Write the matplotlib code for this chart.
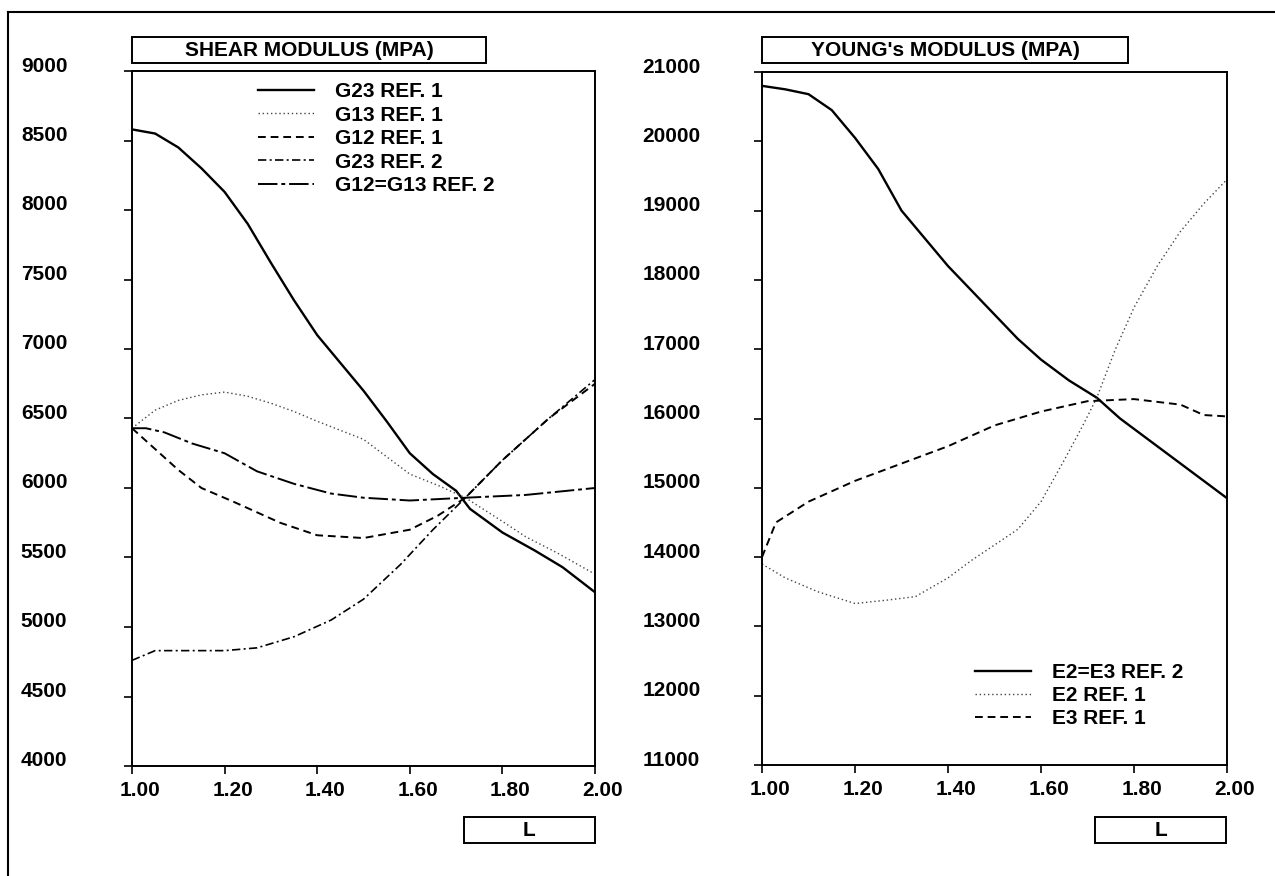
import numpy as np
import matplotlib
matplotlib.use('Agg')
import matplotlib.pyplot as plt
from matplotlib.patches import Rectangle
from matplotlib.lines import Line2D
from matplotlib.transforms import ScaledTranslation

plt.rcParams['font.family'] = ['Liberation Sans', 'DejaVu Sans']
plt.rcParams['font.weight'] = 'bold'

# shear modulus (MPa) vs L
L_g23_r1 = [1.00, 1.05, 1.10, 1.15, 1.20, 1.25, 1.30, 1.35, 1.40, 1.45, 1.50, 1.55, 1.60, 1.65, 1.70, 1.73, 1.80, 1.87, 1.93, 2.00]
g23_r1 = [8580, 8550, 8450, 8300, 8130, 7900, 7620, 7350, 7100, 6900, 6700, 6480, 6250, 6100, 5980, 5850, 5680, 5550, 5430, 5250]

L_g13_r1 = [1.00, 1.05, 1.10, 1.15, 1.20, 1.25, 1.30, 1.35, 1.40, 1.50, 1.60, 1.66, 1.72, 1.80, 1.85, 1.92, 2.00]
g13_r1 = [6430, 6560, 6630, 6670, 6690, 6660, 6610, 6550, 6480, 6350, 6100, 6020, 5930, 5760, 5650, 5530, 5380]

L_g12_r1 = [1.00, 1.05, 1.10, 1.15, 1.22, 1.32, 1.40, 1.50, 1.60, 1.66, 1.72, 1.80, 1.90, 2.00]
g12_r1 = [6430, 6280, 6130, 6000, 5900, 5750, 5660, 5640, 5700, 5800, 5930, 6200, 6500, 6750]

L_g23_r2 = [1.00, 1.05, 1.12, 1.20, 1.27, 1.35, 1.43, 1.50, 1.58, 1.65, 1.72, 1.80, 1.90, 2.00]
g23_r2 = [4760, 4830, 4830, 4830, 4850, 4930, 5050, 5200, 5450, 5700, 5930, 6200, 6500, 6780]

L_g1213_r2 = [1.00, 1.03, 1.07, 1.13, 1.20, 1.27, 1.35, 1.43, 1.50, 1.60, 1.72, 1.85, 2.00]
g1213_r2 = [6430, 6430, 6400, 6320, 6250, 6120, 6030, 5960, 5930, 5910, 5930, 5950, 6000]

# young's modulus (MPa) vs L
L_e23_r2 = [1.00, 1.05, 1.10, 1.15, 1.20, 1.25, 1.30, 1.35, 1.40, 1.45, 1.50, 1.55, 1.60, 1.66, 1.72, 1.77, 1.83, 1.89, 1.95, 2.00]
e23_r2 = [20800, 20750, 20680, 20450, 20050, 19600, 19000, 18600, 18200, 17850, 17500, 17150, 16850, 16550, 16300, 16000, 15700, 15400, 15100, 14850]

L_e2_r1 = [1.00, 1.05, 1.12, 1.20, 1.27, 1.33, 1.40, 1.45, 1.55, 1.60, 1.65, 1.69, 1.72, 1.76, 1.80, 1.85, 1.90, 1.95, 2.00]
e2_r1 = [13900, 13700, 13500, 13330, 13380, 13430, 13700, 13950, 14400, 14800, 15400, 15900, 16300, 17000, 17600, 18200, 18700, 19100, 19450]

L_e3_r1 = [1.00, 1.03, 1.10, 1.20, 1.30, 1.40, 1.50, 1.60, 1.70, 1.80, 1.90, 1.95, 2.00]
e3_r1 = [14000, 14500, 14800, 15100, 15350, 15600, 15900, 16100, 16250, 16280, 16200, 16050, 16030]

W, H = 1275, 876
fig = plt.figure(figsize=(W / 100, H / 100), dpi=100)

def px_rect(x0, y0, x1, y1):
    return [x0 / W, 1 - y1 / H, (x1 - x0) / W, (y1 - y0) / H]

ax1 = fig.add_axes(px_rect(132, 71, 595, 766))
ax2 = fig.add_axes(px_rect(762, 72, 1227, 765))

styles = {
    'solid': dict(color='black', lw=1.7, linestyle='-'),
    'dot': dict(color='#444444', lw=1.0, linestyle=(0, (1, 2))),
    'dash': dict(color='black', lw=1.4, linestyle=(0, (4, 2.5))),
    'dashdot': dict(color='black', lw=1.2, linestyle=(0, (5, 2, 1.2, 2))),
    'longdash': dict(color='black', lw=1.4, linestyle=(0, (10, 2, 2, 2))),
}

ax1.plot(L_g23_r1, g23_r1, label='G23 REF. 1', **styles['solid'])
ax1.plot(L_g13_r1, g13_r1, label='G13 REF. 1', **styles['dot'])
ax1.plot(L_g12_r1, g12_r1, label='G12 REF. 1', **styles['dash'])
ax1.plot(L_g23_r2, g23_r2, label='G23 REF. 2', **styles['dashdot'])
ax1.plot(L_g1213_r2, g1213_r2, label='G12=G13 REF. 2', **styles['longdash'])

ax2.plot(L_e23_r2, e23_r2, label='E2=E3 REF. 2', **styles['solid'])
ax2.plot(L_e2_r1, e2_r1, label='E2 REF. 1', **styles['dot'])
ax2.plot(L_e3_r1, e3_r1, label='E3 REF. 1', **styles['dash'])

ax1.set_ylim(4000, 9000)
ax1.set_yticks(np.arange(4000, 9001, 500))
ax2.set_ylim(11000, 21000)
ax2.set_yticks(np.arange(11000, 21001, 1000))

FS = 15
for ax, pad in ((ax1, 74), (ax2, 80)):
    ax.set_xlim(1.0, 2.0)
    ax.set_xticks(np.arange(1.0, 2.01, 0.2))
    ax.set_xticklabels(['%.2f' % t for t in np.arange(1.0, 2.01, 0.2)])
    ax.tick_params(axis='both', direction='out', length=6, width=1.2, labelsize=FS)
    ax.tick_params(axis='y', pad=pad)
    ax.tick_params(axis='x', pad=5)
    for lab in ax.get_yticklabels():
        lab.set_horizontalalignment('left')
        lab.set_transform(lab.get_transform() + ScaledTranslation(0, 7 / 100, fig.dpi_scale_trans))
    for lab in ax.get_xticklabels():
        lab.set_transform(lab.get_transform() + ScaledTranslation(8 / 100, 0, fig.dpi_scale_trans))
    for s in ax.spines.values():
        s.set_linewidth(1.4)

leg1 = ax1.legend(loc='upper left', bbox_to_anchor=(258 / W, 1 - 82 / H), bbox_transform=fig.transFigure,
                  frameon=False, fontsize=FS, handlelength=2.7, handletextpad=1.0, labelspacing=0.22,
                  borderpad=0, borderaxespad=0)
leg2 = ax2.legend(loc='upper left', bbox_to_anchor=(975 / W, 1 - 663 / H), bbox_transform=fig.transFigure,
                  frameon=False, fontsize=FS, handlelength=2.7, handletextpad=1.0, labelspacing=0.2,
                  borderpad=0, borderaxespad=0)

# boxed labels
def boxed(x0, y0, x1, y1, text):
    fig.add_artist(Rectangle((x0 / W, 1 - y1 / H), (x1 - x0) / W, (y1 - y0) / H,
                             transform=fig.transFigure, fill=False, lw=1.4, edgecolor='black'))
    fig.text((x0 + x1) / 2 / W, 1 - (y0 + y1) / 2 / H, text, ha='center', va='center', fontsize=FS)

boxed(132, 37, 486, 63, 'SHEAR MODULUS (MPA)')
boxed(762, 37, 1128, 63, "YOUNG's MODULUS (MPA)")
boxed(464, 817, 595, 843, 'L')
boxed(1095, 817, 1226, 843, 'L')

# page frame
fig.add_artist(Line2D([8 / W, 1], [1 - 12 / H, 1 - 12 / H], transform=fig.transFigure, color='black', lw=1.5))
fig.add_artist(Line2D([8 / W, 8 / W], [0, 1 - 12 / H], transform=fig.transFigure, color='black', lw=1.5))

fig.savefig('out.png', dpi=100)
